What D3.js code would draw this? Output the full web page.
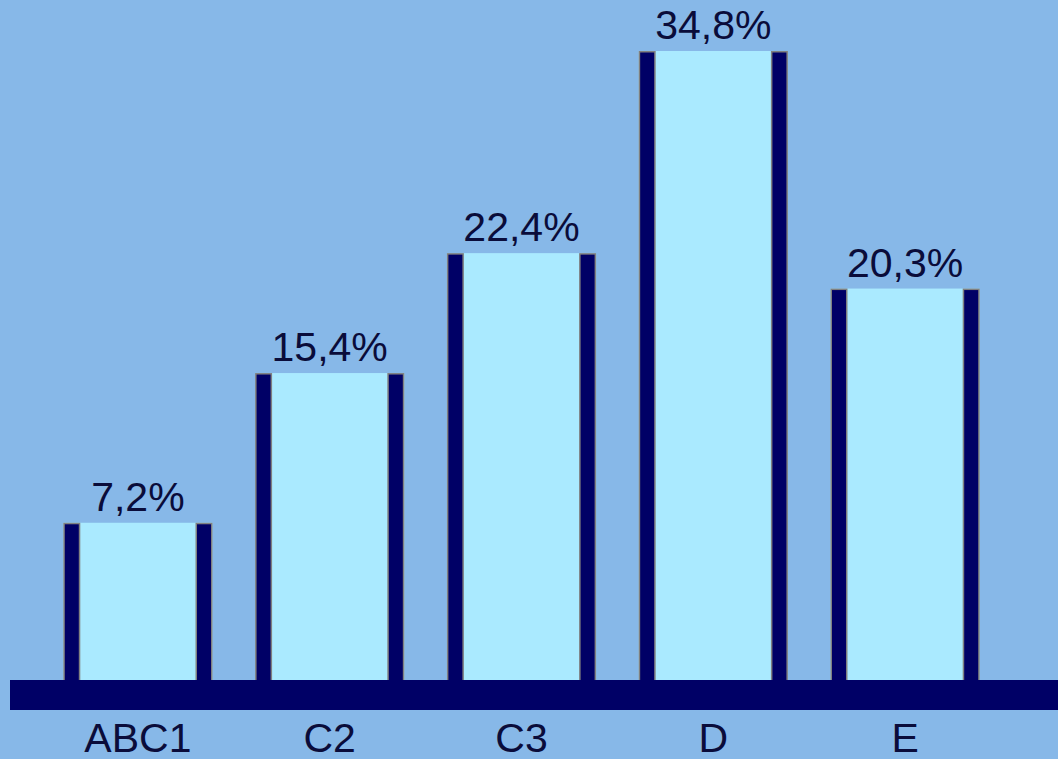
<!DOCTYPE html>
<html>
<head>
<meta charset="utf-8">
<script src="https://d3js.org/d3.v7.min.js"></script>
<style>
  html, body { margin: 0; padding: 0; background: #87b8e8; }
  svg { display: block; }
  text { font-family: "Liberation Sans", Arial, sans-serif; fill: #0a0c3a; }
</style>
</head>
<body>
<svg id="chart" width="1058" height="759"></svg>
<script>
  const categories = ["ABC1", "C2", "C3", "D", "E"];
  const values = [7.2, 15.4, 22.4, 34.8, 20.3];
  const valueLabels = ["7,2%", "15,4%", "22,4%", "34,8%", "20,3%"];

  const svg = d3.select("#chart"),
    baseline = 680;

  const x = d3.scaleBand()
    .domain(categories)
    .range([42, 1001])
    .paddingInner(0.222)
    .paddingOuter(0.111);

  // bar heights in the source grow a little slower than linear
  const y = d3.scalePow().exponent(0.88)
    .domain([0, 34.8])
    .range([baseline, 51]);

  const data = categories.map((c, i) => ({ cat: c, val: values[i], label: valueLabels[i] }));
  const strip = 17;

  const bars = svg.selectAll(".bar")
    .data(data)
    .enter().append("g")
    .attr("class", "bar");

  bars.append("rect")
    .attr("x", d => x(d.cat))
    .attr("y", d => y(d.val))
    .attr("width", x.bandwidth())
    .attr("height", d => baseline - y(d.val))
    .attr("fill", "#aaeaff");

  // dark side strips
  [0, 1].forEach(side => {
    bars.append("rect")
      .attr("x", d => side ? x(d.cat) + x.bandwidth() - strip + 0.75 : x(d.cat) + 0.75)
      .attr("y", d => y(d.val) + 0.75)
      .attr("width", strip - 1.5)
      .attr("height", d => baseline - y(d.val))
      .attr("fill", "#000066")
      .attr("stroke", "#808080")
      .attr("stroke-width", 1.5);
  });

  bars.append("text")
    .attr("x", d => x(d.cat) + x.bandwidth() / 2)
    .attr("y", d => y(d.val) - 12)
    .attr("text-anchor", "middle")
    .style("font-size", "41px")
    .text(d => d.label);

  // base bar
  svg.append("rect")
    .attr("x", 10)
    .attr("y", baseline)
    .attr("width", 1048)
    .attr("height", 30)
    .attr("fill", "#000066");

  const xAxis = svg.append("g")
    .attr("transform", `translate(0, ${baseline + 30})`)
    .call(d3.axisBottom(x).tickSize(0).tickPadding(0));
  xAxis.select(".domain").remove();
  xAxis.selectAll("text")
    .attr("dy", null)
    .attr("y", 42)
    .style("font-size", "41px")
    .attr("fill", "#0a0c3a")
    .style("font-family", "'Liberation Sans', Arial, sans-serif");
</script>
</body>
</html>
